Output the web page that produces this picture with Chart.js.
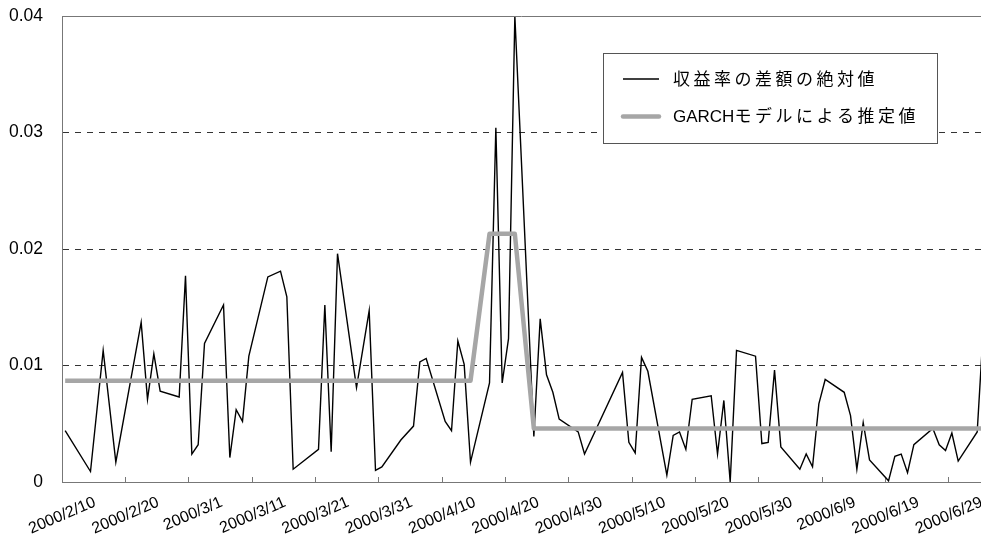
<!DOCTYPE html>
<html>
<head>
<meta charset="utf-8">
<script src="https://cdn.jsdelivr.net/npm/chart.js@4.4.1/dist/chart.umd.min.js"></script>
<style>
  body { margin: 0; background: #fff; }
</style>
</head>
<body>
<canvas id="myChart" width="981" height="535"></canvas>
<script>
const seriesNames = ['収益率の差額の絶対値', 'GARCHモデルによる推定値'];

const dates = [
    '2000/2/10', '2000/2/14', '2000/2/16', '2000/2/18', '2000/2/22', '2000/2/23', '2000/2/24', '2000/2/25',
    '2000/2/28', '2000/2/29', '2000/3/1', '2000/3/2', '2000/3/3', '2000/3/6', '2000/3/7', '2000/3/8',
    '2000/3/9', '2000/3/10', '2000/3/13', '2000/3/15', '2000/3/16', '2000/3/17', '2000/3/21', '2000/3/22',
    '2000/3/23', '2000/3/24', '2000/3/27', '2000/3/29', '2000/3/30', '2000/3/31', '2000/4/3', '2000/4/5',
    '2000/4/6', '2000/4/7', '2000/4/10', '2000/4/11', '2000/4/12', '2000/4/13', '2000/4/14', '2000/4/17',
    '2000/4/18', '2000/4/19', '2000/4/20', '2000/4/21', '2000/4/24', '2000/4/25', '2000/4/26', '2000/4/27',
    '2000/4/28', '2000/5/1', '2000/5/2', '2000/5/8', '2000/5/9', '2000/5/10', '2000/5/11', '2000/5/12',
    '2000/5/15', '2000/5/16', '2000/5/17', '2000/5/18', '2000/5/19', '2000/5/22', '2000/5/23', '2000/5/24',
    '2000/5/25', '2000/5/26', '2000/5/29', '2000/5/30', '2000/5/31', '2000/6/1', '2000/6/2', '2000/6/5',
    '2000/6/6', '2000/6/7', '2000/6/8', '2000/6/9', '2000/6/12', '2000/6/13', '2000/6/14', '2000/6/15',
    '2000/6/16', '2000/6/19', '2000/6/20', '2000/6/21', '2000/6/22', '2000/6/23', '2000/6/26', '2000/6/27',
    '2000/6/28', '2000/6/29', '2000/6/30', '2000/7/3', '2000/7/4'
];

const absDiff = [
    0.0044, 0.0009, 0.0113, 0.0017, 0.0137, 0.0071, 0.0110, 0.0078,
    0.0073, 0.0177, 0.0024, 0.0032, 0.0119, 0.0152, 0.0021, 0.0062,
    0.0052, 0.0108, 0.0176, 0.0181, 0.0159, 0.0011, 0.0028, 0.0152,
    0.0026, 0.0196, 0.0081, 0.0147, 0.0010, 0.0013, 0.0036, 0.0048,
    0.0103, 0.0106, 0.0052, 0.0044, 0.0121, 0.0101, 0.0017, 0.0085,
    0.0304, 0.0085, 0.0123, 0.0400, 0.0039, 0.0140, 0.0092, 0.0077,
    0.0054, 0.0043, 0.0024, 0.0094, 0.0034, 0.0025, 0.0107, 0.0095,
    0.0006, 0.0040, 0.0043, 0.0028, 0.0071, 0.0074, 0.0024, 0.0070,
    0.0000, 0.0113, 0.0108, 0.0033, 0.0034, 0.0096, 0.0030, 0.0011,
    0.0024, 0.0013, 0.0067, 0.0088, 0.0077, 0.0057, 0.0011, 0.0051,
    0.0019, 0.0001, 0.0022, 0.0024, 0.0008, 0.0032, 0.0046, 0.0032,
    0.0027, 0.0042, 0.0018, 0.0043, 0.0135
];

// GARCH estimate only changes level a few times
const garchDates = ['2000/2/10', '2000/4/14', '2000/4/17', '2000/4/21', '2000/4/24', '2000/7/4'];
const garchValues = [0.0087, 0.0087, 0.0213, 0.0213, 0.0046, 0.0046];

const tickDates = [
    '2000/2/10', '2000/2/20', '2000/3/1', '2000/3/11', '2000/3/21', '2000/3/31', '2000/4/10', '2000/4/20',
    '2000/4/30', '2000/5/10', '2000/5/20', '2000/5/30', '2000/6/9', '2000/6/19', '2000/6/29'
];

const yTicks = [0, 0.01, 0.02, 0.03, 0.04];

// days counted from the first date of the axis
const day0 = Date.UTC(2000, 1, 10);
function dayIndex(s) {
    const [y, m, d] = s.split('/').map(Number);
    return (Date.UTC(y, m - 1, d) - day0) / 864e5;
}
// a value sits in the middle of its day, like a date axis in Excel
const toPoints = (ds, vs) => ds.map((s, i) => ({ x: dayIndex(s) + 0.5, y: vs[i] }));

const FONT = "'Liberation Sans', 'Noto Sans CJK JP', sans-serif";

// draw text with wider spacing on the japanese part only
function drawSpaced(ctx, text, x, y) {
    for (const part of text.match(/[\x00-\x7f]+|[^\x00-\x7f]+/g)) {
        ctx.letterSpacing = /[\x00-\x7f]/.test(part) ? '0px' : '3.5px';
        ctx.fillText(part, x, y);
        x += ctx.measureText(part).width;
    }
    ctx.letterSpacing = '0px';
}

const framePlugin = {
    id: 'frame',
    afterDraw(chart) {
        const { ctx, chartArea: a } = chart;
        ctx.save();
        // solid top edge of the plot area
        ctx.strokeStyle = '#777';
        ctx.lineWidth = 1;
        ctx.beginPath();
        ctx.moveTo(a.left, a.top + 0.5);
        ctx.lineTo(a.right, a.top + 0.5);
        ctx.stroke();

        // legend box
        const bx = a.left + 541, by = a.top + 37, bw = 334, bh = 90;
        ctx.fillStyle = '#fff';
        ctx.fillRect(bx, by, bw, bh);
        ctx.strokeStyle = '#555';
        ctx.strokeRect(bx + 0.5, by + 0.5, bw, bh);

        chart.data.datasets.forEach((ds, i) => {
            const ry = by + 26 + i * 37.5;
            ctx.strokeStyle = ds.borderColor;
            ctx.lineWidth = ds.borderWidth;
            ctx.lineCap = i === 1 ? 'round' : 'butt';
            ctx.beginPath();
            ctx.moveTo(bx + 20, ry);
            ctx.lineTo(bx + 56, ry);
            ctx.stroke();
            ctx.fillStyle = '#000';
            ctx.font = '17px ' + FONT;
            ctx.textBaseline = 'middle';
            ctx.textAlign = 'left';
            drawSpaced(ctx, ds.label, bx + 70, ry + 1);
        });
        ctx.restore();
    }
};

const data = {
    datasets: [{
        label: seriesNames[0],
        data: toPoints(dates, absDiff),
        borderColor: '#000',
        borderWidth: 1.4,
        pointRadius: 0,
        tension: 0,
        order: 1
    }, {
        label: seriesNames[1],
        data: toPoints(garchDates, garchValues),
        borderColor: '#a6a6a6',
        borderWidth: 4.5,
        borderJoinStyle: 'round',
        pointRadius: 0,
        tension: 0,
        order: 0
    }]
};

const config = {
    type: 'line',
    data: data,
    options: {
        responsive: false,
        animation: false,
        layout: { padding: { top: 16, left: 0, right: 0, bottom: 0 } },
        plugins: {
            legend: { display: false },
            tooltip: { enabled: false }
        },
        scales: {
            x: {
                type: 'linear',
                min: 0,
                max: 145.1,
                afterBuildTicks: scale => {
                    scale.ticks = tickDates.map(s => ({ value: dayIndex(s) }));
                },
                afterFit: scale => {
                    scale.height = 53;
                    scale.paddingLeft = 0;
                    scale.paddingRight = 0;
                },
                ticks: {
                    autoSkip: false,
                    minRotation: 23,
                    maxRotation: 23,
                    labelOffset: 33,
                    padding: 16,
                    color: '#000',
                    font: { family: FONT, size: 16 },
                    callback: (value, index) => tickDates[index]
                },
                grid: {
                    drawOnChartArea: false,
                    drawTicks: true,
                    tickLength: -5,
                    tickColor: '#777',
                    color: '#777'
                },
                border: { color: '#777', width: 1 }
            },
            y: {
                min: 0,
                max: 0.04,
                afterBuildTicks: scale => {
                    scale.ticks = yTicks.map(v => ({ value: v }));
                },
                afterFit: scale => {
                    scale.width = 62;
                    scale.paddingTop = 0;
                    scale.paddingBottom = 0;
                },
                ticks: {
                    padding: 19,
                    color: '#000',
                    font: { family: FONT, size: 17.5 },
                    callback: value => value === 0 ? '0' : value.toFixed(2)
                },
                grid: {
                    drawTicks: false,
                    color: ctx => (ctx.index === 0 || ctx.index === yTicks.length - 1) ? 'transparent' : '#333',
                    lineWidth: 1
                },
                border: { color: '#777', width: 1, dash: [6, 6] }
            }
        }
    },
    plugins: [framePlugin]
};

const myChart = new Chart(
    document.getElementById('myChart'),
    config
);
</script>
</body>
</html>
